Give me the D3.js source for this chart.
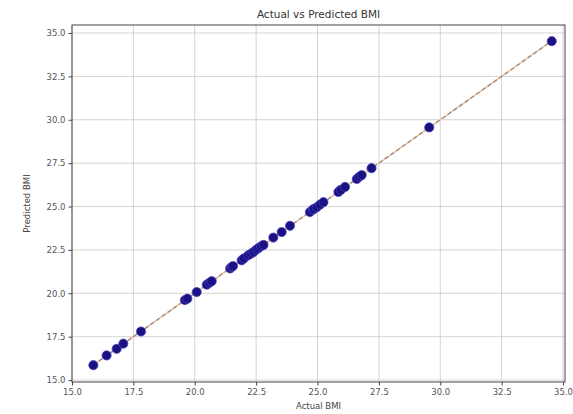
<!DOCTYPE html>
<html><head><meta charset="utf-8">
<script src="https://cdn.jsdelivr.net/npm/d3@7"></script>
<style>body{margin:0;background:#fff}svg{display:block}text{font-family:"DejaVu Sans",sans-serif}</style>
</head><body><svg id="c" width="573" height="414"></svg>
<script>
const actual    = [15.87,16.41,16.82,17.09,17.81,19.6,19.7,20.08,20.49,20.6,20.69,21.44,21.5,21.56,21.91,22.0,22.18,22.3,22.39,22.5,22.59,22.7,22.8,23.2,23.54,23.88,24.69,24.8,24.85,24.97,25.1,25.24,25.85,25.95,26.12,26.6,26.7,26.8,27.2,29.55,34.54];
const predicted = [15.86,16.42,16.8,17.1,17.8,19.61,19.69,20.07,20.5,20.61,20.7,21.43,21.51,21.57,21.9,22.01,22.19,22.29,22.38,22.51,22.6,22.71,22.79,23.21,23.53,23.89,24.68,24.81,24.86,24.96,25.11,25.25,25.84,25.96,26.13,26.59,26.71,26.81,27.21,29.56,34.53];
const xTicks = [15.0,17.5,20.0,22.5,25.0,27.5,30.0,32.5,35.0];
const yTicks = [15.0,17.5,20.0,22.5,25.0,27.5,30.0,32.5,35.0];
const title = "Actual vs Predicted BMI", xLabel = "Actual BMI", yLabel = "Predicted BMI";

const svg = d3.select("#c");
const L=72,R=565,T=25,B=382;
const x = d3.scaleLinear().domain([15.0,35.08]).range([L,R]);
const y = d3.scaleLinear().domain([14.89,35.46]).range([B,T]);

const g = svg.append("g");
g.selectAll(".gx").data(xTicks).enter().append("line")
 .attr("x1",d=>x(d)).attr("x2",d=>x(d)).attr("y1",T).attr("y2",B)
 .attr("stroke","#c8c8c8").attr("stroke-width",0.8);
g.selectAll(".gy").data(yTicks).enter().append("line")
 .attr("y1",d=>y(d)).attr("y2",d=>y(d)).attr("x1",L).attr("x2",R)
 .attr("stroke","#c8c8c8").attr("stroke-width",0.8);

const lo=d3.min(actual), hi=d3.max(actual);
g.append("line").attr("x1",x(lo)).attr("y1",y(lo)).attr("x2",x(hi)).attr("y2",y(hi))
 .attr("stroke","#f0c49a").attr("stroke-width",1.6);
g.append("line").attr("x1",x(lo)).attr("y1",y(lo)).attr("x2",x(hi)).attr("y2",y(hi))
 .attr("stroke","#9a8f96").attr("stroke-width",1.4).attr("stroke-dasharray","4,3");

g.selectAll(".p").data(actual).enter().append("circle")
 .attr("cx",d=>x(d)).attr("cy",(d,i)=>y(predicted[i])).attr("r",4.6)
 .attr("fill","#1a1282").attr("stroke","#4a40c0").attr("stroke-width",0.7);

const xa = svg.append("g").attr("transform",`translate(0,${B})`)
 .call(d3.axisBottom(x).tickValues(xTicks).tickFormat(d3.format(".1f")).tickSize(3.5).tickPadding(3));
const ya = svg.append("g").attr("transform",`translate(${L},0)`)
 .call(d3.axisLeft(y).tickValues(yTicks).tickFormat(d3.format(".1f")).tickSize(3.5).tickPadding(3));
[xa,ya].forEach(a=>{a.select(".domain").remove();a.selectAll("text").attr("font-size",8.5).attr("fill","#555").style("font-family","DejaVu Sans");a.selectAll("line").attr("stroke","#444");});
svg.append("rect").attr("x",L).attr("y",T).attr("width",R-L).attr("height",B-T)
 .attr("fill","none").attr("stroke","#444").attr("stroke-width",1);

svg.append("text").attr("x",(L+R)/2).attr("y",18).attr("text-anchor","middle")
 .attr("font-size",10.5).attr("fill","#333").text(title);
svg.append("text").attr("x",(L+R)/2).attr("y",409).attr("text-anchor","middle")
 .attr("font-size",8.5).attr("fill","#444").text(xLabel);
svg.append("text").attr("transform",`translate(30,${(T+B)/2}) rotate(-90)`).attr("text-anchor","middle")
 .attr("font-size",8.5).attr("fill","#444").text(yLabel);
</script></body></html>
